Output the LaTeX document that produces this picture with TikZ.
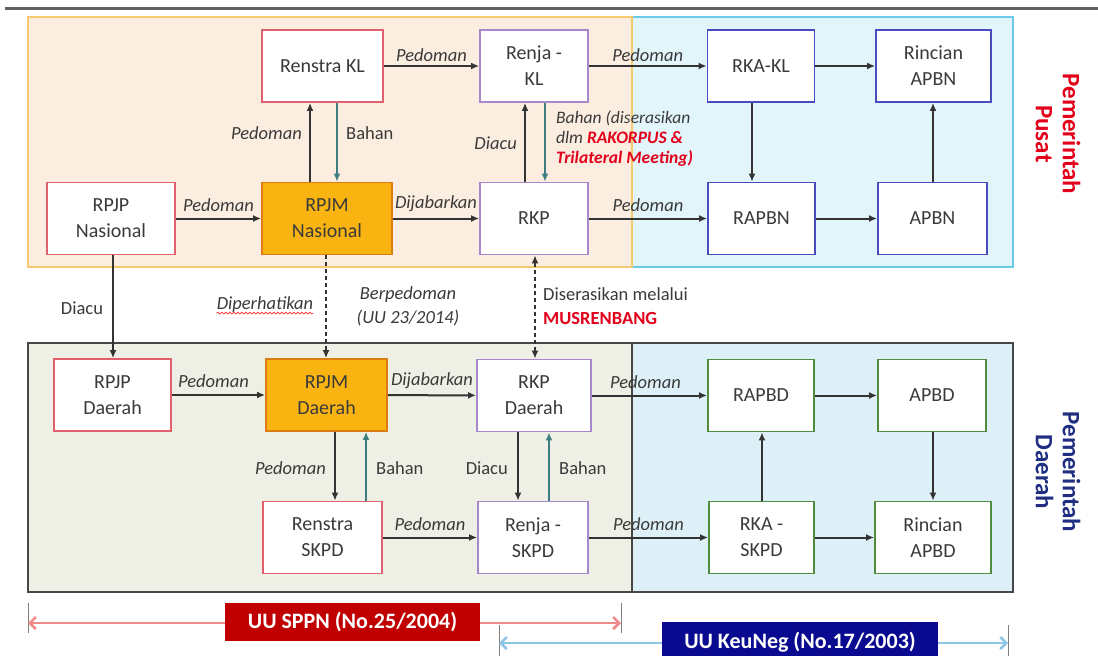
\documentclass[tikz,border=0pt]{standalone}
\usepackage{fontspec}
\setmainfont{Carlito}
\usetikzlibrary{arrows.meta,decorations.pathmorphing}
\definecolor{txt}{HTML}{3A3A3A}
\definecolor{arrc}{HTML}{333333}
\definecolor{tealc}{HTML}{3E7E80}
\definecolor{bred}{HTML}{E0606E}
\definecolor{bpurple}{HTML}{A888CC}
\definecolor{bblue}{HTML}{4B4BC0}
\definecolor{bgreen}{HTML}{4F8C40}
\definecolor{orfill}{HTML}{F9B411}
\definecolor{ordraw}{HTML}{DB7D12}
\definecolor{peach}{HTML}{FCEDE1}
\definecolor{peachdraw}{HTML}{F6C96E}
\definecolor{skyfill}{HTML}{E1F5FB}
\definecolor{skydraw}{HTML}{6CCBEA}
\definecolor{khaki}{HTML}{EEF0E5}
\definecolor{ltblue}{HTML}{DDF0F8}
\definecolor{frame}{HTML}{474747}
\definecolor{pusat}{HTML}{E2001A}
\definecolor{daerah}{HTML}{1F2E80}
\definecolor{lawred}{HTML}{C00000}
\definecolor{lawredline}{HTML}{F08A8A}
\definecolor{lawblue}{HTML}{0A0A90}
\definecolor{lawblueline}{HTML}{8EC6E6}
\begin{document}
\begin{tikzpicture}[x=1pt,y=-1pt,
  box/.style={draw, fill=white, line width=1.8pt, minimum height=72pt, inner sep=2pt,
    align=center, font=\fontsize{20}{26}\selectfont, text=txt},
  redbox/.style={box, draw=bred},
  purbox/.style={box, draw=bpurple},
  bluebox/.style={box, draw=bblue},
  greenbox/.style={box, draw=bgreen},
  orbox/.style={box, draw=ordraw, fill=orfill},
  arr/.style={-{Latex[length=8pt,width=7pt]}, line width=2pt, draw=arrc},
  tarr/.style={arr, draw=tealc},
  darr/.style={arr, dash pattern=on 4pt off 3pt},
  lbl/.style={font=\fontsize{18.5}{24}\selectfont\itshape, text=txt, inner sep=2pt},
  ulbl/.style={font=\fontsize{18.5}{24}\selectfont, text=txt, inner sep=2pt},
  side/.style={font=\fontsize{25}{27}\selectfont\bfseries, align=center, rotate=-90},
  law/.style={font=\fontsize{22}{24}\selectfont\bfseries, text=white, inner sep=0pt},
  tick/.style={draw=gray, line width=0.8pt}
]
\useasboundingbox (0,0) rectangle (1098,656);
\fill[white] (0,0) rectangle (1098,656);
% top rule
\draw[line width=3pt, draw=gray!75!black] (5,8) -- (1098,8);
% regions
\draw[fill=skyfill, draw=skydraw, line width=1.5pt] (632,17) rectangle (1013,267);
\draw[fill=peach, draw=peachdraw, line width=1.5pt] (28,17) rectangle (632,267);
\fill[khaki] (28,343) rectangle (632,592);
\fill[ltblue] (632,343) rectangle (1013,592);
\draw[draw=frame, line width=1.5pt] (28,343) rectangle (1013,592);
\draw[draw=frame, line width=1.2pt] (632,343) -- (632,592);

% boxes top
\node[redbox, minimum width=121pt] (renstrakl) at (322.5,66) {Renstra KL};
\node[purbox, minimum width=108pt] (renjakl) at (534,66) {Renja -\\KL};
\node[bluebox, minimum width=107pt] (rkakl) at (761,66) {RKA-KL};
\node[bluebox, minimum width=115pt] (rincianapbn) at (933.5,66) {Rincian\\APBN};
\node[redbox, minimum width=128pt] (rpjpnas) at (111,218.5) {RPJP\\Nasional};
\node[orbox, minimum width=130pt] (rpjmnas) at (327,218.5) {RPJM\\Nasional};
\node[purbox, minimum width=108pt] (rkp) at (534,218.5) {RKP};
\node[bluebox, minimum width=107pt] (rapbn) at (761.5,218.5) {RAPBN};
\node[bluebox, minimum width=109pt] (apbn) at (932.5,218.5) {APBN};
% boxes bottom
\node[redbox, minimum width=117pt] (rpjpdae) at (112.5,395) {RPJP\\Daerah};
\node[orbox, minimum width=121pt] (rpjmdae) at (326.5,395) {RPJM\\Daerah};
\node[purbox, minimum width=114pt] (rkpdae) at (534,395.5) {RKP\\Daerah};
\node[greenbox, minimum width=106pt] (rapbd) at (761,395.5) {RAPBD};
\node[greenbox, minimum width=108pt] (apbd) at (932,395.5) {APBD};
\node[redbox, minimum width=119pt] (renstraskpd) at (322.5,537.5) {Renstra\\SKPD};
\node[purbox, minimum width=110pt] (renjaskpd) at (533,537.5) {Renja -\\SKPD};
\node[greenbox, minimum width=105pt] (rkaskpd) at (761.5,537.5) {RKA -\\SKPD};
\node[greenbox, minimum width=116pt] (rincianapbd) at (933,537.5) {Rincian\\APBD};

% column coordinates
\coordinate (c113) at (113,0);
\coordinate (c310) at (310,0);
\coordinate (c326) at (326,0);
\coordinate (c335) at (335,0);
\coordinate (c337) at (337,0);
\coordinate (c366) at (366,0);
\coordinate (c518) at (518,0);
\coordinate (c525) at (525,0);
\coordinate (c535) at (535,0);
\coordinate (c545) at (545,0);
\coordinate (c549) at (549,0);
\coordinate (c752) at (752,0);
\coordinate (c762) at (762,0);
\coordinate (c933) at (933,0);

% horizontal arrows top
\draw[arr] (renstrakl) -- node[lbl, above=1pt] (l1) {Pedoman} (renjakl);
\draw[arr] (renjakl) -- node[lbl, above=1pt] (l2) {Pedoman} (rkakl);
\draw[arr] (rkakl) -- (rincianapbn);
\draw[arr] (rpjpnas) -- node[lbl, above=4pt] (l3) {Pedoman} (rpjmnas);
\draw[arr] (rpjmnas) -- node[lbl, above=4pt] (l4) {Dijabarkan} (rkp);
\draw[arr] (rkp) -- node[lbl, above=4pt] (l5) {Pedoman} (rapbn);
\draw[arr] (rapbn) -- (apbn);
% horizontal arrows bottom
\draw[arr] (rpjpdae) -- node[lbl, above=4pt, xshift=-5pt] (l6) {Pedoman} (rpjmdae);
\draw[arr] (rpjmdae) -- node[lbl, above=4pt] (l7) {Dijabarkan} (rkpdae);
\draw[arr] (rkpdae) -- node[lbl, above=4pt, xshift=-4pt] (l8) {Pedoman} (rapbd);
\draw[arr] (rapbd) -- (apbd);
\draw[arr] (renstraskpd) -- node[lbl, above=4pt] (l9) {Pedoman} (renjaskpd);
\draw[arr] (renjaskpd) -- node[lbl, above=4pt] (l10) {Pedoman} (rkaskpd);
\draw[arr] (rkaskpd) -- (rincianapbd);

% vertical arrows top
\draw[arr] (rpjmnas.north -| c310) -- (renstrakl.south -| c310);
\draw[tarr] (renstrakl.south -| c337) -- (rpjmnas.north -| c337);
\node[lbl, anchor=east] (l11) at (304,133) {Pedoman};
\node[ulbl, anchor=west] (l12) at (344,133) {Bahan};
\draw[arr] (rkp.north -| c525) -- (renjakl.south -| c525);
\draw[tarr] (renjakl.south -| c545) -- (rkp.north -| c545);
\node[lbl, anchor=east] (l13) at (519,143) {Diacu};
\node[lbl, anchor=west, align=left, font=\fontsize{17.5}{20}\selectfont\itshape] (l14) at (554,139)
  {Bahan (diserasikan\\dlm \textcolor{pusat}{\bfseries RAKORPUS \&}\\\textcolor{pusat}{\bfseries Trilateral Meeting)}};
\draw[arr] (rkakl.south -| c752) -- (rapbn.north -| c752);
\draw[arr] (apbn.north -| c933) -- (rincianapbn.south -| c933);

% between levels
\draw[arr] (rpjpnas.south -| c113) -- (rpjpdae.north -| c113);
\node[ulbl] (l15) at (82,308) {Diacu};
\draw[darr] (rpjmnas.south -| c326) -- (rpjmdae.north -| c326);
\node[lbl] (l16) at (265,305) {Diperhatikan};
\draw[draw=red!85, line width=0.7pt, decorate, decoration={snake, amplitude=0.9pt, segment length=4pt}]
  ([yshift=2pt,xshift=2pt]l16.south west) -- ([yshift=2pt,xshift=-2pt]l16.south east);
\node[lbl, align=center] (l17) at (408,306) {Berpedoman\\(UU 23/2014)};
\draw[darr, {Latex[length=8pt,width=7pt]}-{Latex[length=8pt,width=7pt]}] (rkp.south -| c535) -- (rkpdae.north -| c535);
\node[ulbl, anchor=west, align=left] (l18) at (541,306) {Diserasikan melalui\\\textcolor{pusat}{\bfseries MUSRENBANG}};

% vertical arrows bottom
\draw[arr] (rpjmdae.south -| c335) -- (renstraskpd.north -| c335);
\draw[tarr] (renstraskpd.north -| c366) -- (rpjmdae.south -| c366);
\node[lbl, anchor=east] (l19) at (328,468) {Pedoman};
\node[ulbl, anchor=west] (l20) at (374,468) {Bahan};
\draw[arr] (rkpdae.south -| c518) -- (renjaskpd.north -| c518);
\draw[tarr] (renjaskpd.north -| c549) -- (rkpdae.south -| c549);
\node[ulbl, anchor=east] (l21) at (510,468) {Diacu};
\node[ulbl, anchor=west] (l22) at (557,468) {Bahan};
\draw[arr] (rkaskpd.north -| c762) -- (rapbd.south -| c762);
\draw[arr] (apbd.south -| c933) -- (rincianapbd.north -| c933);

% side labels
\node[side, text=pusat] (spusat) at (1058,134) {Pemerintah\\Pusat};
\node[side, text=daerah] (sdaerah) at (1058,472) {Pemerintah\\Daerah};

% law ranges
\coordinate (ra) at (28,623);
\coordinate (rb) at (621,623);
\coordinate (ba) at (499,643);
\coordinate (bb) at (1008,643);
\draw[tick] (28,603) -- (28,633);
\draw[tick] (621,603) -- (621,633);
\draw[tick] (499,625) -- (499,656);
\draw[tick] (1008,625) -- (1008,656);
\draw[draw=lawredline, line width=2.5pt, {Straight Barb[length=6pt,width=12pt]}-{Straight Barb[length=6pt,width=12pt]}] (ra) -- (rb);
\draw[draw=lawblueline, line width=2.5pt, {Straight Barb[length=6pt,width=12pt]}-{Straight Barb[length=6pt,width=12pt]}] (ba) -- (bb);
\node[law, fill=lawred, minimum width=255pt, minimum height=38pt] (sppn) at (352.5,622) {UU SPPN (No.25/2004)};
\node[law, fill=lawblue, minimum width=276pt, minimum height=40pt] (keuneg) at (800,642) {UU KeuNeg (No.17/2003)};
\end{tikzpicture}
\end{document}
